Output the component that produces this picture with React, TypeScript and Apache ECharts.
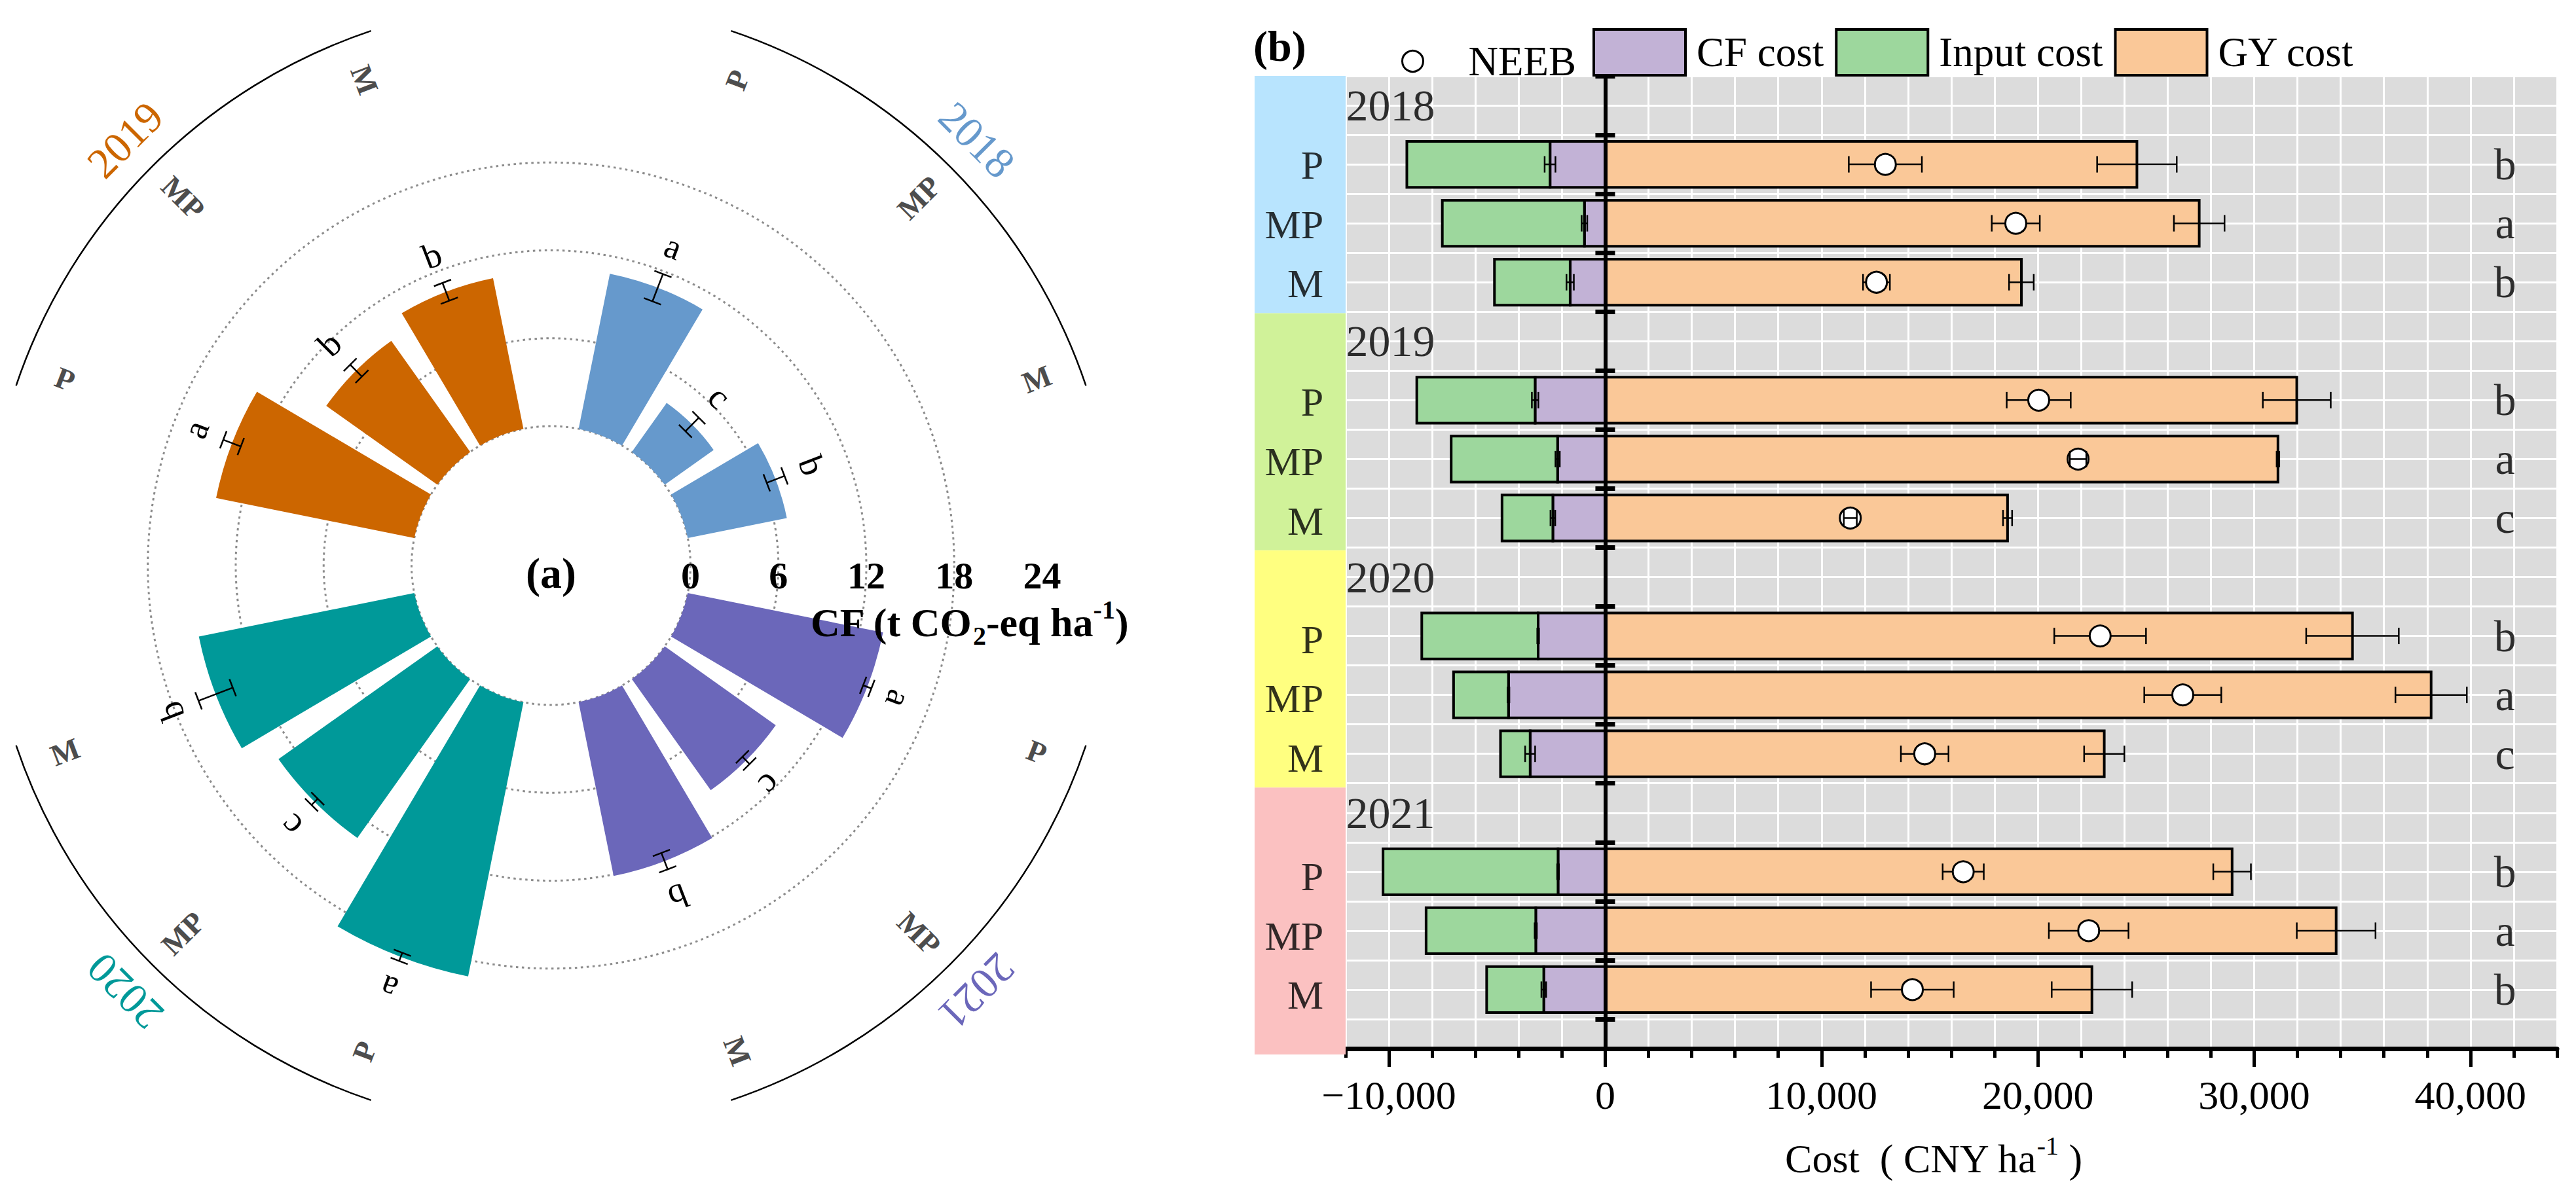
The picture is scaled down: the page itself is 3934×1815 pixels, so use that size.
import React, { useEffect, useRef } from 'react';
import * as echarts from 'echarts';

const FONT = "'Liberation Serif', 'Times New Roman', Times, serif";

// ---------- shared categories ----------
const YEARS = ['2018', '2019', '2020', '2021'];
const TREATMENTS = ['P', 'MP', 'M'];
const YEAR_COLORS = ['#6699CC', '#CC6600', '#009999', '#6B67BA'];

// ---------- panel (a): carbon footprint (t CO2-eq ha-1) ----------
const CF_MEAN = [
  [10.8, 4.1, 6.9],
  [13.8, 9.3, 10.5],
  [19.1, 13.3, 15.0],
  [13.6, 9.3, 12.1],
];
const CF_SD = [
  [1.0, 0.65, 0.65],
  [0.64, 0.57, 0.65],
  [0.3, 0.3, 1.25],
  [0.3, 0.35, 0.6],
];
const CF_LETTERS = [
  ['a', 'c', 'b'],
  ['a', 'b', 'b'],
  ['a', 'c', 'b'],
  ['a', 'c', 'b'],
];
const CF_AXIS_MAX = 24;
const CF_AXIS_STEP = 6;
// quadrant (clockwise from 12 o'clock) that holds each year
const YEAR_QUADRANT = [0, 3, 2, 1];

// ---------- panel (b): costs (CNY ha-1) ----------
const CF_COST = [
  [-2550, -960, -1620],
  [-3240, -2200, -2420],
  [-3100, -4470, -3470],
  [-2180, -3210, -2840],
];
const CF_COST_SD = [
  [250, 130, 170],
  [150, 100, 110],
  [40, 40, 230],
  [40, 50, 110],
];
const INPUT_COST = [
  [-6620, -6570, -3500],
  [-5470, -4920, -2350],
  [-5380, -2540, -1370],
  [-8090, -5070, -2640],
];
const GY_COST = [
  [24580, 27460, 19240],
  [31970, 31100, 18600],
  [34545, 38180, 23070],
  [28980, 33790, 22500],
];
const GY_SD = [
  [1840, 1170, 570],
  [1570, 60, 210],
  [2140, 1650, 930],
  [870, 1820, 1860],
];
const NEEB = [
  [12950, 18980, 12540],
  [20040, 21860, 11330],
  [22880, 26700, 14770],
  [16550, 22350, 14200],
];
const NEEB_SD = [
  [1690, 1110, 620],
  [1480, 380, 300],
  [2120, 1780, 1100],
  [950, 1840, 1910],
];
const COST_LETTERS = [
  ['b', 'a', 'b'],
  ['b', 'a', 'c'],
  ['b', 'a', 'c'],
  ['b', 'a', 'b'],
];
const COST_MIN = -12000;
const COST_MAX = 44000;
const COST_MAJOR = [-10000, 0, 10000, 20000, 30000, 40000];
const STRIP_COLORS = ['#B8E4FE', '#D0F299', '#FFFF80', '#FBC1C1'];

// ---------- layout constants ----------
const GROUP_SPAN = 3.75; // angular slots per year group
const FIRST_SLOT = 0.875;
const LETTER_GAP = 2.0;
const TREAT_LABEL_R = 26;
const ARC_R = 29;
const YEAR_LABEL_R = 31.6;
const ROWS_PER_YEAR = 4;
const ROW_MAX = 16.5;
const LETTER_X = 41600;
const STRIP_LABEL_X = 0.76;
const NEEB_SYMBOL = 32;
const SMALL_ERR = 500; // error bars narrower than the marker are drawn over it

const slotPos = (y: number, t: number) => YEAR_QUADRANT[y] * GROUP_SPAN + FIRST_SLOT + t;
const rowPos = (y: number, t: number) => y * ROWS_PER_YEAR + 1.5 + t;

const fmtCost = (v: number) => {
  if (v % 10000 !== 0) return '';
  if (v === 0) return '0';
  return (v < 0 ? '\u2212' : '') + Math.abs(v).toLocaleString('en-US');
};

function buildOption() {
  // ----- panel (a) data -----
  const polarBars: any[] = [];
  const polarErr: any[] = [];
  const polarLetterList: string[] = [];
  const polarTreat: any[] = [];
  const arcs: any[] = [];
  YEARS.forEach((_, y) => {
    TREATMENTS.forEach((__, t) => {
      const pos = slotPos(y, t);
      polarBars.push({ value: [CF_MEAN[y][t], pos], itemStyle: { color: YEAR_COLORS[y] } });
      polarErr.push([CF_MEAN[y][t], pos, CF_SD[y][t]]);
      polarLetterList.push(CF_LETTERS[y][t]);
      polarTreat.push([TREAT_LABEL_R, pos]);
    });
    arcs.push([ARC_R, slotPos(y, 0) - 0.1, slotPos(y, 2) + 0.1, slotPos(y, 1)]);
  });

  // ----- panel (b) data -----
  const cfBars: any[] = [];
  const inputBars: any[] = [];
  const gyBars: any[] = [];
  const errs: any[] = [];
  const errsTop: any[] = [];
  const neeb: any[] = [];
  const letters: any[] = [];
  const yearLabels: any[] = [];
  const rowLabels: any[] = [];
  YEARS.forEach((yr, y) => {
    yearLabels.push({ name: yr, value: [COST_MIN, y * ROWS_PER_YEAR + 0.5] });
    TREATMENTS.forEach((tr, t) => {
      const row = rowPos(y, t);
      cfBars.push([0, CF_COST[y][t], row]);
      inputBars.push([CF_COST[y][t], CF_COST[y][t] + INPUT_COST[y][t], row]);
      gyBars.push([0, GY_COST[y][t], row]);
      errs.push([CF_COST[y][t], row, CF_COST_SD[y][t]]);
      errs.push([GY_COST[y][t], row, GY_SD[y][t]]);
      if (NEEB_SD[y][t] < SMALL_ERR) errsTop.push([NEEB[y][t], row, NEEB_SD[y][t]]);
      else errs.push([NEEB[y][t], row, NEEB_SD[y][t]]);
      neeb.push([NEEB[y][t], row]);
      letters.push({ name: COST_LETTERS[y][t], value: [LETTER_X, row] });
      rowLabels.push({ name: tr, value: [STRIP_LABEL_X, row] });
    });
  });

  const barRender = (color: string) => (params: any, api: any) => {
    const p0 = api.coord([api.value(0), api.value(2)]);
    const p1 = api.coord([api.value(1), api.value(2)]);
    const h = api.size([0, 0.78])[1];
    return {
      type: 'rect',
      shape: { x: Math.min(p0[0], p1[0]), y: p0[1] - h / 2, width: Math.abs(p1[0] - p0[0]), height: h },
      style: { fill: color, stroke: '#000', lineWidth: 4 },
    };
  };

  const hErrRender = (params: any, api: any) => {
    const c = api.value(0), row = api.value(1), sd = api.value(2);
    const a = api.coord([c - sd, row]);
    const b = api.coord([c + sd, row]);
    const cap = 12.5;
    const ls = { stroke: '#000', lineWidth: 2.5 };
    return {
      type: 'group',
      children: [
        { type: 'line', shape: { x1: a[0], y1: a[1], x2: b[0], y2: b[1] }, style: ls },
        { type: 'line', shape: { x1: a[0], y1: a[1] - cap, x2: a[0], y2: a[1] + cap }, style: ls },
        { type: 'line', shape: { x1: b[0], y1: b[1] - cap, x2: b[0], y2: b[1] + cap }, style: ls },
      ],
    };
  };

  const polarErrRender = (params: any, api: any) => {
    const idx = params.dataIndex;
    const m = api.value(0), pos = api.value(1), sd = api.value(2);
    const cs = params.coordSys;
    const lo = api.coord([m - sd, pos]);
    const hi = api.coord([m + sd, pos]);
    const tp = api.coord([m + sd + LETTER_GAP, pos]);
    const ux = hi[0] - cs.cx, uy = hi[1] - cs.cy;
    const L = Math.hypot(ux, uy) || 1;
    const nx = -uy / L, ny = ux / L;
    const cap = 14;
    const theta = Math.atan2(ux, -uy);
    const ls = { stroke: '#000', lineWidth: 2.5 };
    return {
      type: 'group',
      children: [
        { type: 'line', shape: { x1: lo[0], y1: lo[1], x2: hi[0], y2: hi[1] }, style: ls },
        { type: 'line', shape: { x1: lo[0] - nx * cap, y1: lo[1] - ny * cap, x2: lo[0] + nx * cap, y2: lo[1] + ny * cap }, style: ls },
        { type: 'line', shape: { x1: hi[0] - nx * cap, y1: hi[1] - ny * cap, x2: hi[0] + nx * cap, y2: hi[1] + ny * cap }, style: ls },
        {
          type: 'text', x: tp[0], y: tp[1], rotation: -theta,
          style: { text: polarLetterList[idx], fontSize: 54, fontFamily: FONT, fill: '#000', align: 'center', verticalAlign: 'middle' },
        },
      ],
    };
  };

  const polarTreatRender = (params: any, api: any) => {
    const idx = params.dataIndex;
    const cs = params.coordSys;
    const p = api.coord([api.value(0), api.value(1)]);
    let th = Math.atan2(p[0] - cs.cx, -(p[1] - cs.cy));
    if (th < 0) th += Math.PI * 2;
    const rot = th <= Math.PI ? Math.PI / 2 - th : (3 * Math.PI) / 2 - th;
    return {
      type: 'text', x: p[0], y: p[1], rotation: rot,
      style: { text: TREATMENTS[idx % 3], fontSize: 46, fontWeight: 'bold', fontFamily: FONT, fill: '#4D4D4D', align: 'center', verticalAlign: 'middle' },
    };
  };

  const arcRender = (params: any, api: any) => {
    const idx = params.dataIndex;
    const cs = params.coordSys;
    const r = api.value(0);
    const p0 = api.coord([r, api.value(1)]);
    const p1 = api.coord([r, api.value(2)]);
    const R = Math.hypot(p0[0] - cs.cx, p0[1] - cs.cy);
    const s = Math.atan2(p0[1] - cs.cy, p0[0] - cs.cx);
    const e = Math.atan2(p1[1] - cs.cy, p1[0] - cs.cx);
    const yp = api.coord([YEAR_LABEL_R, api.value(3)]);
    const theta = Math.atan2(yp[0] - cs.cx, -(yp[1] - cs.cy));
    return {
      type: 'group',
      children: [
        { type: 'arc', shape: { cx: cs.cx, cy: cs.cy, r: R, startAngle: s, endAngle: e, clockwise: true }, style: { stroke: '#000', lineWidth: 2.5, fill: 'none' } },
        {
          type: 'text', x: yp[0], y: yp[1], rotation: -theta,
          style: { text: YEARS[idx], fontSize: 66, fontFamily: FONT, fill: YEAR_COLORS[idx], align: 'center', verticalAlign: 'middle' },
        },
      ],
    };
  };

  const POLAR_CENTER = [841.5, 864];
  const POLAR_RADIUS = [213, 750];
  const dotGray = '#8c8c8c';

  const textBase = { fontFamily: FONT, color: '#000' };

  return {
    animation: false,
    backgroundColor: '#ffffff',
    textStyle: { fontFamily: FONT },
    polar: [
      { center: POLAR_CENTER, radius: POLAR_RADIUS },
      { center: POLAR_CENTER, radius: POLAR_RADIUS },
    ],
    angleAxis: [
      { polarIndex: 0, type: 'value', min: 0, max: GROUP_SPAN * 4, startAngle: 90, clockwise: true, show: false },
      { polarIndex: 1, type: 'value', min: 0, max: 360, startAngle: 0, show: false },
    ],
    radiusAxis: [
      {
        polarIndex: 0, type: 'value', min: 0, max: CF_AXIS_MAX, interval: CF_AXIS_STEP,
        axisLine: { show: false }, axisTick: { show: false }, axisLabel: { show: false },
        splitLine: { show: true, lineStyle: { color: [dotGray, dotGray, dotGray, dotGray, 'rgba(0,0,0,0)'], width: 3, type: [3.5, 5.5] } },
      },
      {
        polarIndex: 1, type: 'value', min: 0, max: CF_AXIS_MAX, interval: CF_AXIS_STEP,
        axisLine: { show: false }, axisTick: { show: false }, splitLine: { show: false },
        axisLabel: { show: true, margin: -44, fontSize: 58, fontWeight: 'bold', ...textBase },
      },
    ],
    grid: [
      { left: 2055, top: 116, width: 1850, height: 1495, show: true, backgroundColor: '#DCDCDC', borderWidth: 0 },
      { left: 1916, top: 116, width: 139, height: 1495, show: false },
    ],
    xAxis: [
      {
        gridIndex: 0, type: 'value', min: COST_MIN, max: COST_MAX, interval: 2000, position: 'bottom',
        axisLine: { show: true, onZero: false, lineStyle: { color: '#000', width: 7 } },
        axisTick: { show: true, customValues: COST_MAJOR, length: 28, lineStyle: { color: '#000', width: 5 } },
        axisLabel: { show: true, customValues: COST_MAJOR, formatter: fmtCost, margin: 40, fontSize: 62, ...textBase },
        splitLine: { show: false },
        name: 'Cost  ( CNY ha{sup|-1} )',
        nameLocation: 'middle',
        nameGap: 128,
        nameTextStyle: {
          fontSize: 62, lineHeight: 80, padding: [0, 55, 0, 0], ...textBase,
          rich: { sup: { fontSize: 40, lineHeight: 44, verticalAlign: 'top', ...textBase } },
        },
      },
      {
        gridIndex: 0, type: 'value', min: COST_MIN, max: COST_MAX, interval: 2000, position: 'bottom',
        axisLine: { show: false, onZero: false },
        axisTick: { show: true, length: 14, lineStyle: { color: '#000', width: 5 } },
        axisLabel: { show: false },
        splitLine: { show: true, lineStyle: { color: '#ffffff', width: 3 } },
      },
      { gridIndex: 1, type: 'value', min: 0, max: 1, show: false },
    ],
    yAxis: [
      {
        gridIndex: 0, type: 'value', inverse: true, min: 0, max: ROW_MAX, interval: 0.5, position: 'left',
        axisLine: { show: false, onZero: false }, axisTick: { show: false }, axisLabel: { show: false },
        splitLine: { show: true, lineStyle: { color: '#ffffff', width: 3 } },
      },
      {
        gridIndex: 0, type: 'value', inverse: true, min: 0, max: ROW_MAX, interval: 1, position: 'left', z: 10,
        axisLine: { show: true, onZero: true, onZeroAxisIndex: 0, lineStyle: { color: '#000', width: 6 } },
        axisTick: { show: true, length: 15, lineStyle: { color: '#000', width: 7 } },
        axisLabel: { show: false }, splitLine: { show: false },
      },
      {
        gridIndex: 0, type: 'value', inverse: true, min: 0, max: ROW_MAX, interval: 1, position: 'left', z: 10,
        axisLine: { show: false, onZero: true, onZeroAxisIndex: 0 },
        axisTick: { show: true, inside: true, length: 15, lineStyle: { color: '#000', width: 7 } },
        axisLabel: { show: false }, splitLine: { show: false },
      },
      { gridIndex: 1, type: 'value', inverse: true, min: 0, max: ROW_MAX, show: false },
    ],
    legend: [
      {
        data: [{ name: 'NEEB', icon: 'circle', itemStyle: { color: '#fff', borderColor: '#000', borderWidth: 3 } }],
        left: 2135, top: 57, itemWidth: 140, itemHeight: NEEB_SYMBOL, symbolKeepAspect: true, selectedMode: false,
        textStyle: { fontSize: 63, padding: [0, 0, 0, 10], ...textBase },
      },
      {
        data: [
          { name: 'CF cost', icon: 'rect', itemStyle: { color: '#C2B2D6', borderColor: '#000', borderWidth: 4 } },
          { name: 'Input cost', icon: 'rect', itemStyle: { color: '#9DD79D', borderColor: '#000', borderWidth: 4 } },
          { name: 'GY cost', icon: 'rect', itemStyle: { color: '#FAC898', borderColor: '#000', borderWidth: 4 } },
        ],
        left: 2427, top: 38, itemWidth: 140, itemHeight: 70, itemGap: 17, symbolKeepAspect: false, selectedMode: false,
        textStyle: { fontSize: 63, padding: [0, 0, 0, 12], ...textBase },
      },
    ],
    graphic: [
      {
        type: 'text', x: 841.5, y: 875, z: 100,
        style: { text: '(a)', fontSize: 66, fontWeight: 'bold', fontFamily: FONT, fill: '#000', align: 'center', verticalAlign: 'middle' },
      },
      {
        type: 'text', x: 1238, y: 951, z: 100,
        style: {
          text: 'CF (t CO{sub|2}-eq ha{sup|-1})', fontSize: 62, fontWeight: 'bold', fontFamily: FONT, fill: '#000',
          align: 'left', verticalAlign: 'middle', lineHeight: 80,
          rich: {
            sub: { fontSize: 40, fontWeight: 'bold', fontFamily: FONT, fill: '#000', verticalAlign: 'bottom', lineHeight: 40 },
            sup: { fontSize: 40, fontWeight: 'bold', fontFamily: FONT, fill: '#000', verticalAlign: 'top', lineHeight: 40 },
          },
        },
      },
      {
        type: 'text', x: 1914, y: 70, z: 100,
        style: { text: '(b)', fontSize: 66, fontWeight: 'bold', fontFamily: FONT, fill: '#000', align: 'left', verticalAlign: 'middle' },
      },
    ],
    series: [
      // ----- panel (a) -----
      { type: 'bar', name: 'CF', coordinateSystem: 'polar', polarIndex: 0, barWidth: 19.2, data: polarBars, z: 2 },
      { type: 'custom', name: 'CF err', coordinateSystem: 'polar', polarIndex: 0, renderItem: polarErrRender, data: polarErr, z: 4 },
      { type: 'custom', name: 'treat labels', coordinateSystem: 'polar', polarIndex: 0, renderItem: polarTreatRender, data: polarTreat, z: 4 },
      { type: 'custom', name: 'year arcs', coordinateSystem: 'polar', polarIndex: 0, renderItem: arcRender, data: arcs, z: 4 },
      // ----- panel (b) -----
      {
        type: 'scatter', name: 'rowlabels', xAxisIndex: 2, yAxisIndex: 3, symbolSize: 1,
        itemStyle: { color: 'rgba(0,0,0,0)' }, silent: true,
        label: { show: true, position: 'left', distance: 0, formatter: '{b}', fontSize: 62, ...textBase },
        data: rowLabels,
        markArea: {
          silent: true,
          label: { show: false },
          data: YEARS.map((_, g) => [
            { yAxis: g * ROWS_PER_YEAR, itemStyle: { color: STRIP_COLORS[g], opacity: 1 } },
            { yAxis: g === YEARS.length - 1 ? ROW_MAX : (g + 1) * ROWS_PER_YEAR },
          ]),
        },
      },
      {
        type: 'custom', name: 'GY cost', xAxisIndex: 0, yAxisIndex: 0, encode: { x: [0, 1], y: 2 },
        itemStyle: { color: '#FAC898', borderColor: '#000', borderWidth: 4 },
        renderItem: barRender('#FAC898'), data: gyBars, z: 2,
      },
      {
        type: 'custom', name: 'CF cost', xAxisIndex: 0, yAxisIndex: 0, encode: { x: [0, 1], y: 2 },
        itemStyle: { color: '#C2B2D6', borderColor: '#000', borderWidth: 4 },
        renderItem: barRender('#C2B2D6'), data: cfBars, z: 2,
      },
      {
        type: 'custom', name: 'Input cost', xAxisIndex: 0, yAxisIndex: 0, encode: { x: [0, 1], y: 2 },
        itemStyle: { color: '#9DD79D', borderColor: '#000', borderWidth: 4 },
        renderItem: barRender('#9DD79D'), data: inputBars, z: 2,
      },
      {
        type: 'custom', name: 'errors', xAxisIndex: 0, yAxisIndex: 0, encode: { x: 0, y: 1 },
        renderItem: hErrRender, data: errs, z: 4,
      },
      {
        type: 'scatter', name: 'NEEB', xAxisIndex: 0, yAxisIndex: 0, symbol: 'circle', symbolSize: NEEB_SYMBOL,
        itemStyle: { color: '#ffffff', borderColor: '#000', borderWidth: 3, opacity: 1 }, data: neeb, z: 5,
      },
      {
        type: 'custom', name: 'errors-top', xAxisIndex: 0, yAxisIndex: 0, encode: { x: 0, y: 1 },
        renderItem: hErrRender, data: errsTop, z: 6,
      },
      {
        type: 'scatter', name: 'letters', xAxisIndex: 0, yAxisIndex: 0, symbolSize: 1, silent: true,
        itemStyle: { color: 'rgba(0,0,0,0)' },
        label: { show: true, position: 'inside', formatter: '{b}', fontSize: 68, ...textBase },
        data: letters, z: 5,
      },
      {
        type: 'scatter', name: 'years', xAxisIndex: 0, yAxisIndex: 0, symbolSize: 1, silent: true,
        itemStyle: { color: 'rgba(0,0,0,0)' },
        label: { show: true, position: 'right', distance: 0, formatter: '{b}', fontSize: 68, ...textBase },
        data: yearLabels, z: 5,
      },
    ],
  };
}

export default function App() {
  const ref = useRef<HTMLDivElement>(null);
  useEffect(() => {
    const chart = echarts.init(ref.current as HTMLDivElement, null, { renderer: 'svg' });
    chart.setOption(buildOption() as any);
    return () => chart.dispose();
  }, []);
  return (
    <div
      ref={ref}
      style={{ position: 'fixed', left: 0, top: 0, width: 3934, height: 1815, background: '#ffffff' }}
    />
  );
}
